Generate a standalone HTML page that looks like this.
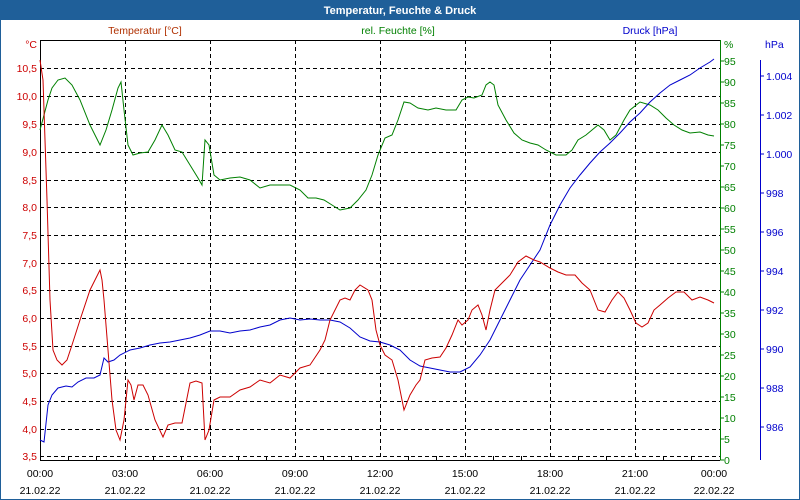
<!DOCTYPE html>
<html><head><meta charset="utf-8"><style>
html,body{margin:0;padding:0;background:#fff}
svg{display:block;font-family:"Liberation Sans",sans-serif;font-size:10.5px}
</style></head><body>
<svg width="800" height="500" xmlns="http://www.w3.org/2000/svg">
<rect x="0" y="0" width="800" height="500" fill="#fff"/>
<rect x="0.5" y="0.5" width="799" height="499" fill="none" stroke="#1f5f99" stroke-width="1"/>
<rect x="0" y="0" width="800" height="20" fill="#1f5f99"/>
<text x="400" y="14" fill="#fff" font-weight="bold" text-anchor="middle" font-size="11">Temperatur, Feuchte &amp; Druck</text>
<g stroke="#000" stroke-dasharray="4,3" stroke-width="1">
<line x1="40" x2="720" y1="68.5" y2="68.5"/><line x1="40" x2="720" y1="96.5" y2="96.5"/>
<line x1="40" x2="720" y1="124.5" y2="124.5"/><line x1="40" x2="720" y1="152.5" y2="152.5"/>
<line x1="40" x2="720" y1="180.5" y2="180.5"/><line x1="40" x2="720" y1="207.5" y2="207.5"/>
<line x1="40" x2="720" y1="235.5" y2="235.5"/><line x1="40" x2="720" y1="263.5" y2="263.5"/>
<line x1="40" x2="720" y1="290.5" y2="290.5"/><line x1="40" x2="720" y1="318.5" y2="318.5"/>
<line x1="40" x2="720" y1="346.5" y2="346.5"/><line x1="40" x2="720" y1="373.5" y2="373.5"/>
<line x1="40" x2="720" y1="401.5" y2="401.5"/><line x1="40" x2="720" y1="429.5" y2="429.5"/>
<line x1="40" x2="720" y1="456.5" y2="456.5"/>
<line x1="125.5" x2="125.5" y1="40" y2="460"/><line x1="210.5" x2="210.5" y1="40" y2="460"/>
<line x1="295.5" x2="295.5" y1="40" y2="460"/><line x1="380.5" x2="380.5" y1="40" y2="460"/>
<line x1="465.5" x2="465.5" y1="40" y2="460"/><line x1="550.5" x2="550.5" y1="40" y2="460"/>
<line x1="635.5" x2="635.5" y1="40" y2="460"/>
</g>
<g stroke="#000" stroke-width="1">
<line x1="40.5" y1="40" x2="40.5" y2="460"/><line x1="40" y1="40.5" x2="720" y2="40.5"/><line x1="40" y1="460.5" x2="720" y2="460.5"/>
<path d="M68.5 460v-4M96.5 460v-4M153.5 460v-4M181.5 460v-4M238.5 460v-4M266.5 460v-4M323.5 460v-4M351.5 460v-4M408.5 460v-4M436.5 460v-4M493.5 460v-4M521.5 460v-4M578.5 460v-4M606.5 460v-4M663.5 460v-4M691.5 460v-4"/>
</g>
<line x1="720.5" y1="40" x2="720.5" y2="460" stroke="#008000"/>
<line x1="760.5" y1="60" x2="760.5" y2="460" stroke="#0000cc"/>
<g fill="#cc0000" text-anchor="end">
<text x="37" y="48">°C</text>
<text x="37" y="72">10,5</text><text x="37" y="100">10,0</text><text x="37" y="128">9,5</text><text x="37" y="156">9,0</text><text x="37" y="184">8,5</text><text x="37" y="211">8,0</text><text x="37" y="239">7,5</text><text x="37" y="267">7,0</text><text x="37" y="294">6,5</text><text x="37" y="322">6,0</text><text x="37" y="350">5,5</text><text x="37" y="377">5,0</text><text x="37" y="405">4,5</text><text x="37" y="433">4,0</text><text x="37" y="460">3,5</text>
</g>
<text x="145" y="34" fill="#b03000" text-anchor="middle">Temperatur [°C]</text>
<text x="398" y="34" fill="#008000" text-anchor="middle">rel. Feuchte [%]</text>
<text x="650" y="34" fill="#0000cc" text-anchor="middle">Druck [hPa]</text>
<g fill="#008000">
<text x="724" y="48">%</text>
<text x="724" y="65">95</text><text x="724" y="86">90</text><text x="724" y="107">85</text><text x="724" y="128">80</text><text x="724" y="149">75</text><text x="724" y="170">70</text><text x="724" y="191">65</text><text x="724" y="212">60</text><text x="724" y="233">55</text><text x="724" y="254">50</text><text x="724" y="275">45</text><text x="724" y="296">40</text><text x="724" y="317">35</text><text x="724" y="338">30</text><text x="724" y="359">25</text><text x="724" y="380">20</text><text x="724" y="401">15</text><text x="724" y="422">10</text><text x="724" y="443">5</text><text x="724" y="464">0</text>
</g>
<g stroke="#008000"><path d="M720 61h4M720 82h4M720 103h4M720 124h4M720 145h4M720 166h4M720 187h4M720 208h4M720 229h4M720 250h4M720 271h4M720 292h4M720 313h4M720 334h4M720 355h4M720 376h4M720 397h4M720 418h4M720 439h4M720 460h4"/></g>
<g fill="#0000cc">
<text x="765" y="48">hPa</text>
<text x="766" y="80">1.004</text><text x="766" y="119">1.002</text><text x="766" y="158">1.000</text><text x="766" y="197">998</text><text x="766" y="236">996</text><text x="766" y="275">994</text><text x="766" y="314">992</text><text x="766" y="353">990</text><text x="766" y="392">988</text><text x="766" y="431">986</text>
</g>
<g stroke="#0000cc"><path d="M760 76h4M760 115h4M760 154h4M760 193h4M760 232h4M760 271h4M760 310h4M760 349h4M760 388h4M760 427h4"/></g>
<g fill="#000" text-anchor="middle">
<text x="40" y="477">00:00</text><text x="125" y="477">03:00</text><text x="210" y="477">06:00</text><text x="295" y="477">09:00</text><text x="380" y="477">12:00</text><text x="465" y="477">15:00</text><text x="550" y="477">18:00</text><text x="635" y="477">21:00</text><text x="714" y="477">00:00</text>
<text x="40" y="494">21.02.22</text><text x="125" y="494">21.02.22</text><text x="210" y="494">21.02.22</text><text x="295" y="494">21.02.22</text><text x="380" y="494">21.02.22</text><text x="465" y="494">21.02.22</text><text x="550" y="494">21.02.22</text><text x="635" y="494">21.02.22</text><text x="714" y="494">22.02.22</text>
</g>
<polyline fill="none" stroke="#008000" points="40,130 44,115 48,100 52,88 58,80 65,78 72,85 80,100 90,125 100,145 106,130 112,110 118,88 121,82 124,110 128,145 133,155 140,153 148,152 155,140 162,125 168,135 175,150 182,152 190,165 198,178 202,185 205,140 209,145 214,175 220,180 230,178 240,177 250,180 260,188 270,185 280,185 290,185 300,190 308,198 316,198 324,200 332,205 340,210 350,208 358,200 366,190 372,175 378,155 385,138 392,135 398,120 404,102 410,103 418,108 428,110 436,108 446,110 456,110 462,100 468,97 474,98 482,95 486,85 490,82 494,85 498,105 506,120 514,133 522,140 530,143 538,145 546,150 556,155 566,155 572,150 578,140 586,135 592,130 598,125 604,130 610,140 616,135 624,120 630,110 640,102 650,105 658,110 666,118 674,125 682,130 690,133 700,132 708,135 714,136"/>
<polyline fill="none" stroke="#0000cc" points="40,440 44,442 48,405 52,395 58,388 66,386 72,387 78,382 86,378 94,378 100,375 104,358 108,362 114,360 120,355 130,350 140,348 150,345 160,343 170,342 180,340 190,338 200,335 210,331 220,331 230,333 240,331 250,330 260,327 270,325 280,320 290,318 300,320 310,319 320,320 330,320 340,322 350,328 360,337 370,341 380,342 390,345 400,350 410,360 420,366 430,368 440,370 450,372 460,372 470,367 480,355 490,340 500,320 510,300 520,280 530,265 540,250 550,225 560,205 570,188 580,175 590,163 600,152 610,143 620,133 630,122 640,113 650,102 660,93 670,85 680,80 690,75 700,68 710,62 714,59"/>
<polyline fill="none" stroke="#cc0000" points="40,60 43,80 47,200 50,300 53,350 57,360 62,365 67,360 72,345 80,320 90,290 100,270 102,280 104,300 108,350 112,400 116,430 120,440 124,420 128,380 131,385 134,400 138,385 143,385 148,395 155,420 163,437 168,425 175,423 182,423 190,383 196,381 202,383 205,440 209,430 214,400 220,397 230,397 240,390 250,387 260,380 270,383 280,375 290,378 300,368 310,365 320,350 325,340 330,320 340,300 345,298 350,300 355,290 360,285 368,290 372,300 376,330 380,345 385,355 392,360 398,380 404,410 410,395 416,385 420,380 425,360 432,358 440,357 446,348 452,335 458,320 462,325 468,320 472,310 478,305 482,315 486,330 490,310 495,290 502,283 510,275 518,262 526,256 534,260 540,262 550,268 558,272 566,275 575,275 582,283 590,290 598,310 605,312 612,300 618,292 624,298 630,310 636,323 642,327 648,323 654,310 660,305 668,298 676,292 684,292 692,300 700,297 708,300 714,303"/>
</svg>
</body></html>
